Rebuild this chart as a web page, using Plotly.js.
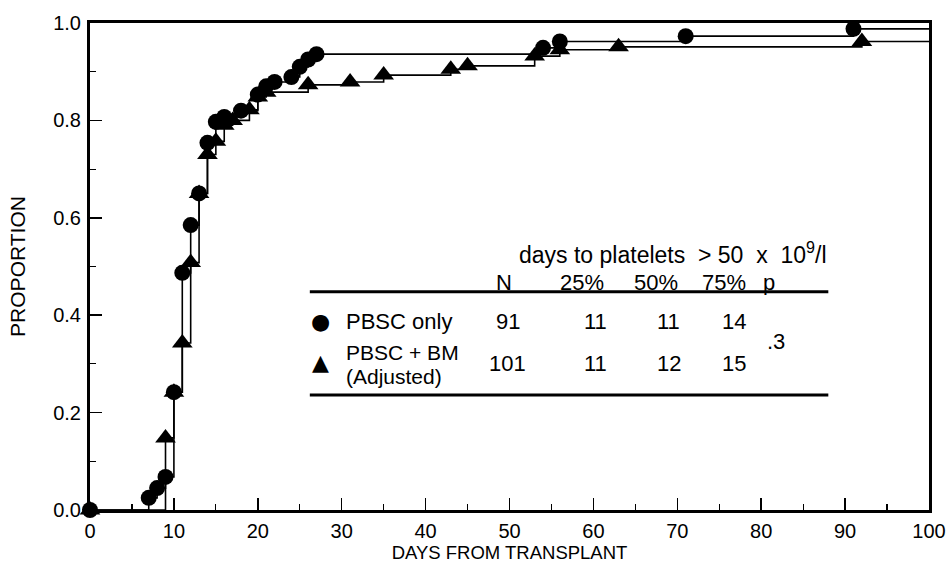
<!DOCTYPE html>
<html>
<head>
<meta charset="utf-8">
<script src="https://cdn.plot.ly/plotly-3.0.1.min.js"></script>
<style>html,body{margin:0;padding:0;background:#fff;}#chart{width:951px;height:567px;}</style>
</head>
<body>
<div id="chart"></div>
<script>
// PBSC only (circles)
const pbscDays = [0, 7, 8, 9, 10, 11, 12, 13, 14, 15, 16, 18, 20, 21, 22, 24, 25, 26, 27, 54, 56, 71, 91];
const pbscProp = [0, 0.025, 0.045, 0.068, 0.242, 0.487, 0.585, 0.65, 0.754, 0.797, 0.807, 0.82, 0.853, 0.87, 0.879, 0.889, 0.91, 0.925, 0.936, 0.949, 0.962, 0.973, 0.988];
// PBSC + BM adjusted (triangles)
const bmDays = [0, 9, 10, 11, 12, 13, 14, 15, 16, 17, 19, 20, 21, 26, 31, 35, 43, 45, 53, 56, 63, 92];
const bmProp = [0, 0.148, 0.242, 0.343, 0.508, 0.65, 0.73, 0.757, 0.79, 0.80, 0.822, 0.848, 0.858, 0.873, 0.879, 0.893, 0.905, 0.912, 0.932, 0.945, 0.951, 0.962];

// table
const row1Label = "PBSC only";
const row2Label = ["PBSC + BM", "(Adjusted)"];
const groupN = ["91", "101"];
const q25 = ["11", "11"];
const q50 = ["11", "12"];
const q75 = ["14", "15"];
const pValue = ".3";
const headers = ["N", "25%", "50%", "75%", "p"];
const tableTitle = "days to platelets  > 50  x  10<sup>9</sup>/l";

const XMAX = 100;
const FONT = "Liberation Sans, Arial, Helvetica, sans-serif";

function stepTrace(x, y) {
  return {x: x.concat([XMAX]), y: y.concat([y[y.length - 1]]), mode: "lines",
    line: {shape: "hv", color: "#000", width: 1.6}, hoverinfo: "skip", cliponaxis: false};
}
const traces = [
  stepTrace(pbscDays, pbscProp),
  stepTrace(bmDays, bmProp),
  {x: bmDays, y: bmProp, mode: "markers", marker: {symbol: "triangle-up", size: 18, color: "#000"}, cliponaxis: false},
  {x: pbscDays, y: pbscProp, mode: "markers", marker: {symbol: "circle", size: 16, color: "#000"}, cliponaxis: false}
];

const tf = {family: FONT, size: 22, color: "#000"};
const ann = [];
function A(x, y, text, xanchor, extra) {
  ann.push(Object.assign({x: x, y: y, xref: "x", yref: "y", text: text, showarrow: false, xanchor: xanchor || "center", yanchor: "middle", font: tf}, extra || {}));
}
A(50.9, 0.527, tableTitle, "left", {font: {family: FONT, size: 23, color: "#000"}});
const colX = [49.3, 58.6, 67.5, 75.6, 80.9];
headers.forEach((h, i) => A(colX[i], 0.468, h));
const valX = [49.8, 60.2, 69.0, 76.7];
const rowY = [0.388, 0.300];
const glyphFont = {family: "DejaVu Sans", size: 22, color: "#000"};
A(27.5, 0.388, "●", "center", {font: glyphFont});
A(27.5, 0.302, "▲", "center", {font: glyphFont});
A(30.3, 0.388, row1Label, "left");
A(30.3, 0.324, row2Label[0], "left", {font: {family: FONT, size: 21, color: "#000"}});
A(30.3, 0.275, row2Label[1], "left", {font: {family: FONT, size: 21, color: "#000"}});
for (let r = 0; r < 2; r++) {
  [groupN[r], q25[r], q50[r], q75[r]].forEach((v, i) => A(valX[i], rowY[r], v));
}
A(81.8, 0.345, pValue);

const shapes = [
  {type: "line", xref: "x", yref: "y", x0: 26.2, x1: 88.0, y0: 0.448, y1: 0.448, line: {color: "#000", width: 3}},
  {type: "line", xref: "x", yref: "y", x0: 26.2, x1: 88.0, y0: 0.236, y1: 0.236, line: {color: "#000", width: 3}}
];

const layout = {
  width: 951, height: 567,
  margin: {l: 90, r: 22, t: 23, b: 57},
  paper_bgcolor: "#fff", plot_bgcolor: "#fff",
  showlegend: false,
  font: {family: FONT, color: "#000"},
  xaxis: {range: [0, XMAX], dtick: 10, tick0: 0, ticks: "inside", ticklen: 12, tickwidth: 1.5, tickcolor: "#000",
    minor: {dtick: 5, ticks: "inside", ticklen: 6, tickwidth: 1.2, tickcolor: "#000"},
    showline: true, linewidth: 3, linecolor: "#000", mirror: true, showgrid: false, zeroline: false,
    tickfont: {family: FONT, size: 20}, ticklabelstandoff: 1,
    title: {text: "DAYS FROM TRANSPLANT", font: {family: FONT, size: 18.5}, standoff: 5}},
  yaxis: {range: [0, 1], dtick: 0.2, tick0: 0, tickformat: ".1f", ticks: "inside", ticklen: 12, tickwidth: 1.5, tickcolor: "#000",
    minor: {dtick: 0.1, ticks: "inside", ticklen: 6, tickwidth: 1.2, tickcolor: "#000"},
    showline: true, linewidth: 3, linecolor: "#000", mirror: true, showgrid: false, zeroline: false,
    tickfont: {family: FONT, size: 20}, ticklabelstandoff: 2,
    title: {text: "PROPORTION", font: {family: FONT, size: 21}, standoff: 22}},
  annotations: ann,
  shapes: shapes
};
Plotly.newPlot("chart", traces, layout, {staticPlot: true, displayModeBar: false});
</script>
</body>
</html>
